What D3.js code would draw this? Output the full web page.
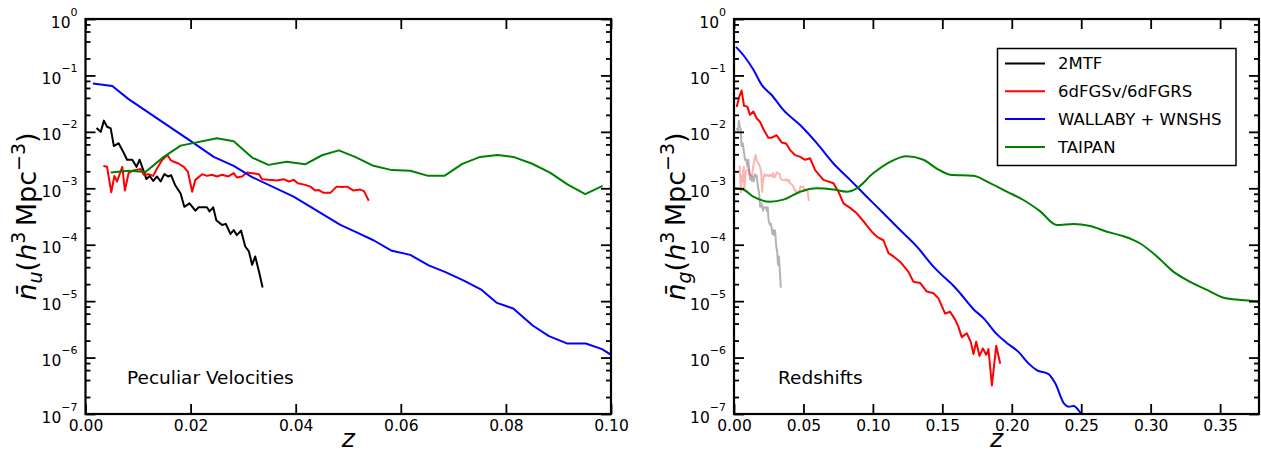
<!DOCTYPE html>
<html>
<head>
<meta charset="utf-8">
<script src="https://cdn.jsdelivr.net/npm/d3@7"></script>
<style>
  body { margin: 0; background: #fff; }
  svg { display: block; font-family: "DejaVu Sans", sans-serif; }
</style>
</head>
<body>
<svg id="chart" width="1261" height="454"></svg>
<script>
// values (z, mean number density in h^3 Mpc^-3)

const decades = [0, -1, -2, -3, -4, -5, -6, -7];
const zTicksPV = [0, 0.02, 0.04, 0.06, 0.08, 0.10];
const zTicksRS = [0, 0.05, 0.10, 0.15, 0.20, 0.25, 0.30, 0.35];
const surveys = ["2MTF", "6dFGSv/6dFGRS", "WALLABY + WNSHS", "TAIPAN"];

// peculiar velocities
const z2MTF = [0.0021, 0.0029, 0.0035, 0.0041, 0.0048, 0.0054, 0.0063, 0.0073, 0.0079, 0.0089,
  0.0097, 0.0103, 0.0110, 0.0116, 0.0122, 0.0129, 0.0136, 0.0143, 0.0150, 0.0157, 0.0163,
  0.0171, 0.0181, 0.0188, 0.0198, 0.0209, 0.0215, 0.0231, 0.0236, 0.0243, 0.0249, 0.0260,
  0.0267, 0.0276, 0.0282, 0.0288, 0.0296, 0.0304, 0.0311, 0.0317, 0.0323, 0.0331, 0.0337];
const n2MTF = [1.17e-2, 1.0e-2, 1.58e-2, 1.23e-2, 1.15e-2, 5.6e-3, 6.3e-3, 4.2e-3, 3.2e-3, 3.2e-3,
  2.4e-3, 3.2e-3, 2.1e-3, 1.45e-3, 1.66e-3, 1.35e-3, 1.62e-3, 1.32e-3, 1.78e-3, 1.62e-3, 1.7e-3,
  1.12e-3, 8.1e-4, 4.7e-4, 5.4e-4, 4.0e-4, 4.6e-4, 4.6e-4, 3.9e-4, 4.6e-4, 2.7e-4, 2.24e-4,
  2.34e-4, 1.55e-4, 1.82e-4, 1.48e-4, 1.78e-4, 9.3e-5, 7.6e-5, 4.4e-5, 6.2e-5, 3.1e-5, 1.74e-5];

const z6dFGSv = [0.0034, 0.0041, 0.0049, 0.0055, 0.0060, 0.0070, 0.0075, 0.0082, 0.0089, 0.0105,
  0.0111, 0.0120, 0.0129, 0.0136, 0.0146, 0.0156, 0.0162, 0.0168, 0.0177, 0.0187, 0.0195,
  0.0203, 0.0209, 0.0222, 0.0231, 0.0241, 0.0250, 0.0260, 0.0272, 0.0282, 0.0288, 0.0298,
  0.0307, 0.0330, 0.0336, 0.0348, 0.0364, 0.0377, 0.0387, 0.0396, 0.0404, 0.0418, 0.0428,
  0.0437, 0.0444, 0.0453, 0.0466, 0.0478, 0.0488, 0.0498, 0.0510, 0.0523, 0.0530, 0.0539];
const n6dFGSv = [2.48e-3, 2.4e-3, 8.5e-4, 1.66e-3, 1.32e-3, 2.4e-3, 9.1e-4, 1.86e-3, 2.04e-3, 2.19e-3,
  1.74e-3, 1.78e-3, 1.66e-3, 2.24e-3, 3.16e-3, 3.9e-3, 3.16e-3, 2.95e-3, 2.75e-3, 2.4e-3, 1.95e-3,
  8.7e-4, 1.41e-3, 1.78e-3, 1.66e-3, 1.74e-3, 1.62e-3, 1.74e-3, 1.62e-3, 1.86e-3, 1.55e-3, 1.62e-3,
  1.9e-3, 1.78e-3, 1.45e-3, 1.41e-3, 1.38e-3, 1.45e-3, 1.32e-3, 1.41e-3, 1.23e-3, 1.15e-3, 1.07e-3,
  9.1e-4, 9.3e-4, 8.3e-4, 8.3e-4, 1.07e-3, 1.05e-3, 1.07e-3, 9.1e-4, 9.5e-4, 8.9e-4, 6.0e-4];

const zWallabyPV = [0.0014, 0.0051, 0.0082, 0.0206, 0.0244, 0.0282, 0.0317, 0.0396, 0.0485, 0.0513,
  0.0548, 0.0583, 0.0618, 0.0653, 0.0684, 0.0719, 0.0754, 0.0783, 0.0814, 0.0851, 0.0882,
  0.0916, 0.0952, 0.0983, 0.1000];
const nWallabyPV = [7.2e-2, 6.5e-2, 3.8e-2, 6.3e-3, 3.6e-3, 2.5e-3, 1.58e-3, 7.1e-4, 2.24e-4, 1.7e-4,
  1.2e-4, 7.8e-5, 6.6e-5, 4.3e-5, 3.3e-5, 2.34e-5, 1.58e-5, 9.3e-6, 7.4e-6, 3.7e-6, 2.4e-6,
  1.78e-6, 1.78e-6, 1.41e-6, 1.12e-6];

const zTaipanPV = [0.0048, 0.0082, 0.0114, 0.0149, 0.0181, 0.0250, 0.0282, 0.0317, 0.0348, 0.0383,
  0.0418, 0.0450, 0.0482, 0.0513, 0.0548, 0.0583, 0.0618, 0.0652, 0.0683, 0.0717, 0.0751,
  0.0784, 0.0814, 0.0849, 0.0884, 0.0917, 0.0951, 0.0984];
const nTaipanPV = [1.9e-3, 2.04e-3, 1.95e-3, 3.6e-3, 5.7e-3, 7.7e-3, 6.8e-3, 3.5e-3, 2.6e-3, 2.95e-3,
  2.66e-3, 3.85e-3, 4.7e-3, 3.6e-3, 2.5e-3, 2.1e-3, 2.04e-3, 1.66e-3, 1.66e-3, 2.7e-3, 3.6e-3,
  3.9e-3, 3.6e-3, 2.75e-3, 1.9e-3, 1.17e-3, 7.9e-4, 1.1e-3];

// redshifts
const z6dFGRS = [0.0019, 0.0038, 0.0055, 0.0072, 0.0096, 0.0115, 0.0139, 0.0163, 0.0187, 0.0216,
  0.0247, 0.0271, 0.0307, 0.0343, 0.0375, 0.0403, 0.0439, 0.0476, 0.0512, 0.0548, 0.0584,
  0.0644, 0.0716, 0.0752, 0.0788, 0.0836, 0.0884, 0.0944, 0.0992, 0.1030, 0.1076, 0.1112,
  0.1148, 0.1196, 0.1256, 0.1292, 0.1340, 0.1388, 0.1436, 0.1472, 0.1520, 0.1556, 0.1592,
  0.1616, 0.1640, 0.1676, 0.1705, 0.1724, 0.1744, 0.1768, 0.1792, 0.1816, 0.1832, 0.1857,
  0.1888, 0.1917];
const n6dFGRS = [2.75e-2, 4.2e-2, 5.4e-2, 2.9e-2, 2.8e-2, 2.0e-2, 2.3e-2, 1.74e-2, 1.51e-2, 1.07e-2,
  7.9e-3, 7.9e-3, 8.7e-3, 6.5e-3, 6.2e-3, 4.8e-3, 3.9e-3, 3.6e-3, 3.2e-3, 3.4e-3, 2.1e-3,
  1.41e-3, 1.23e-3, 8.7e-4, 5.4e-4, 4.5e-4, 3.6e-4, 2.4e-4, 1.7e-4, 1.38e-4, 1.2e-4, 7.1e-5,
  6.2e-5, 5.0e-5, 3.3e-5, 2.2e-5, 2.1e-5, 1.48e-5, 1.38e-5, 1.12e-5, 6.0e-6, 6.5e-6, 4.7e-6,
  3.5e-6, 2.3e-6, 2.7e-6, 1.9e-6, 1.15e-6, 1.9e-6, 1.07e-6, 1.45e-6, 1.12e-6, 1.41e-6, 3.2e-7,
  1.62e-6, 7.8e-7];

const zWallabyRS = [0.0014, 0.0079, 0.0140, 0.0199, 0.0271, 0.0355, 0.0476, 0.0596, 0.0716, 0.0836,
  0.0956, 0.1076, 0.1196, 0.1316, 0.1436, 0.1484, 0.1585, 0.1628, 0.1724, 0.1796, 0.1892,
  0.1964, 0.2048, 0.2120, 0.2180, 0.2265, 0.2313, 0.2378, 0.2409, 0.2445, 0.2488, 0.2505];
const nWallabyRS = [3.2e-1, 2.1e-1, 1.26e-1, 6.8e-2, 4.5e-2, 2.45e-2, 1.32e-2, 6.3e-3, 2.75e-3, 1.41e-3,
  7.1e-4, 3.6e-4, 1.82e-4, 9.3e-5, 4.1e-5, 3.1e-5, 1.82e-5, 1.38e-5, 7.2e-6, 5.0e-6, 2.6e-6,
  1.82e-6, 1.26e-6, 7.9e-7, 6.0e-7, 5.1e-7, 3.5e-7, 1.51e-7, 1.35e-7, 1.38e-7, 1.1e-7, 9.5e-8];

const zTaipanRS = [0.0007, 0.0067, 0.0139, 0.0259, 0.0355, 0.0476, 0.0596, 0.0716, 0.0812, 0.0884,
  0.1004, 0.1124, 0.1244, 0.1364, 0.1460, 0.1556, 0.1724, 0.1844, 0.1964, 0.2084, 0.2205,
  0.2325, 0.2445, 0.2565, 0.2685, 0.2805, 0.2925, 0.3045, 0.3165, 0.3285, 0.3405, 0.3525,
  0.3646, 0.3780];
const nTaipanRS = [1.0e-3, 9.5e-4, 7.1e-4, 5.8e-4, 6.3e-4, 8.7e-4, 1.0e-3, 9.5e-4, 8.7e-4, 1.0e-3,
  1.86e-3, 2.95e-3, 3.7e-3, 3.2e-3, 2.24e-3, 1.74e-3, 1.66e-3, 1.23e-3, 8.7e-4, 6.2e-4, 3.9e-4,
  2.24e-4, 2.34e-4, 2.14e-4, 1.7e-4, 1.41e-4, 1.05e-4, 6.2e-5, 3.3e-5, 2.2e-5, 1.58e-5, 1.15e-5,
  1.05e-5, 1.0e-5];

const pairs = (zs, ns) => zs.map((z, i) => ({ z, n: ns[i] }));

const svg = d3.select("#chart");
svg.append("rect").attr("width", 1261).attr("height", 454).attr("fill", "#fff");

const plotTop = 19;
const plotBottom = 414;

const panels = [
  {
    id: "pv", left: 85.5, right: 611, xDomain: [0, 0.1], xTicks: zTicksPV,
    sub: "u", note: "Peculiar Velocities", noteX: 127,
    series: [
      { data: pairs(z2MTF, n2MTF), color: "black", curve: d3.curveLinear },
      { data: pairs(z6dFGSv, n6dFGSv), color: "red", curve: d3.curveLinear },
      { data: pairs(zWallabyPV, nWallabyPV), color: "blue", curve: d3.curveLinear },
      { data: pairs(zTaipanPV, nTaipanPV), color: "green", curve: d3.curveLinear }
    ]
  },
  {
    id: "rs", left: 734, right: 1259, xDomain: [0, 0.378], xTicks: zTicksRS,
    sub: "g", note: "Redshifts", noteX: 778, legend: true,
    series: [
      { data: pairs(z2MTF, n2MTF), color: "rgba(0,0,0,0.3)", curve: d3.curveLinear },
      { data: pairs(z6dFGSv, n6dFGSv), color: "rgba(255,0,0,0.3)", curve: d3.curveLinear },
      { data: pairs(z6dFGRS, n6dFGRS), color: "red", curve: d3.curveLinear },
      { data: pairs(zWallabyRS, nWallabyRS), color: "blue", curve: d3.curveMonotoneX },
      { data: pairs(zTaipanRS, nTaipanRS), color: "green", curve: d3.curveMonotoneX }
    ]
  }
];

const majors = decades.map(k => Math.pow(10, k));
const minors = decades.slice(1).flatMap(k => [2, 4, 6, 8].map(m => m * Math.pow(10, k)));
const supFmt = k => (k < 0 ? "\u2212" + -k : String(k));

panels.forEach(p => {
  const x = d3.scaleLinear().domain(p.xDomain).range([p.left, p.right]);
  const y = d3.scaleLog().domain([1e-7, 1]).range([plotBottom, plotTop]);
  const g = svg.append("g");

  g.append("clipPath")
    .attr("id", "clip-" + p.id)
    .append("rect")
    .attr("x", p.left)
    .attr("y", plotTop)
    .attr("width", p.right - p.left)
    .attr("height", plotBottom - plotTop);

  const line = d3
    .line()
    .x(d => x(d.z))
    .y(d => y(d.n));

  p.series.forEach(s => {
    g.append("path")
      .datum(s.data)
      .attr("clip-path", "url(#clip-" + p.id + ")")
      .attr("fill", "none")
      .attr("stroke", s.color)
      .attr("stroke-width", 2)
      .attr("stroke-linejoin", "round")
      .attr("d", line.curve(s.curve));
  });

  // y axes, ticks pointing inward on both sides
  const yLeft = g.append("g")
    .attr("transform", `translate(${p.left},0)`)
    .call(d3.axisLeft(y).tickValues(majors).tickSize(-10).tickSizeOuter(0).tickPadding(8).tickFormat(() => ""));
  yLeft.selectAll(".tick text")
    .attr("dy", null)
    .attr("y", 8)
    .attr("font-size", 15.5)
    .attr("font-family", "DejaVu Sans")
    .attr("fill", "#000")
    .each(function (d) {
      const k = Math.round(Math.log10(d));
      const t = d3.select(this);
      t.append("tspan").text("10");
      t.append("tspan").attr("dy", -12).attr("font-size", 11).text(supFmt(k));
    });

  g.append("g")
    .attr("transform", `translate(${p.left},0)`)
    .call(d3.axisLeft(y).tickValues(minors).tickSize(-5).tickSizeOuter(0).tickFormat(() => ""));
  g.append("g")
    .attr("transform", `translate(${p.right},0)`)
    .call(d3.axisRight(y).tickValues(majors).tickSize(-10).tickSizeOuter(0).tickFormat(() => ""));
  g.append("g")
    .attr("transform", `translate(${p.right},0)`)
    .call(d3.axisRight(y).tickValues(minors).tickSize(-5).tickSizeOuter(0).tickFormat(() => ""));

  // x axes
  g.append("g")
    .attr("transform", `translate(0,${plotBottom})`)
    .call(d3.axisBottom(x).tickValues(p.xTicks).tickSize(-10).tickSizeOuter(0).tickPadding(6).tickFormat(d3.format(".2f")))
    .call(a => a.selectAll("text").attr("font-size", 15.5).attr("font-family", "DejaVu Sans").attr("fill", "#000"));
  g.append("g")
    .attr("transform", `translate(0,${plotTop})`)
    .call(d3.axisTop(x).tickValues(p.xTicks).tickSize(-10).tickSizeOuter(0).tickFormat(() => ""));

  g.selectAll(".domain").remove();
  g.selectAll(".tick line").attr("stroke", "#000").attr("stroke-width", 1.8);

  g.append("rect")
    .attr("x", p.left)
    .attr("y", plotTop)
    .attr("width", p.right - p.left)
    .attr("height", plotBottom - plotTop)
    .attr("fill", "none")
    .attr("stroke", "#000")
    .attr("stroke-width", 2.2);

  // axis labels
  g.append("text")
    .attr("x", (p.left + p.right) / 2)
    .attr("y", 447)
    .attr("text-anchor", "middle")
    .attr("font-size", 25)
    .attr("font-style", "italic")
    .text("z");

  const yl = g.append("text")
    .attr("transform", `translate(${p.left - 49.5},${(plotTop + plotBottom) / 2}) rotate(-90)`)
    .attr("text-anchor", "middle")
    .attr("font-size", 27);
  yl.append("tspan").attr("font-style", "italic").text("n\u0304");
  yl.append("tspan").attr("font-style", "italic").attr("font-size", 19).attr("dy", 6).text(p.sub);
  yl.append("tspan").attr("dy", -6).text("(");
  yl.append("tspan").attr("font-style", "italic").text("h");
  yl.append("tspan").attr("font-size", 19).attr("dy", -11).text("3");
  yl.append("tspan").attr("dy", 11).text("\u2009Mpc");
  yl.append("tspan").attr("font-size", 19).attr("dy", -11).text("\u22123");
  yl.append("tspan").attr("dy", 11).text(")");

  g.append("text")
    .attr("x", p.noteX)
    .attr("y", 384)
    .attr("font-size", 18.5)
    .text(p.note);

  if (p.legend) {
    const colors = ["black", "red", "blue", "green"];
    const lg = g.append("g");
    lg.append("rect")
      .attr("x", 997.5)
      .attr("y", 48.5)
      .attr("width", 238.5)
      .attr("height", 117)
      .attr("fill", "#fff")
      .attr("stroke", "#000")
      .attr("stroke-width", 1.5);
    surveys.forEach((name, i) => {
      const ly = 63.5 + i * 27.8;
      lg.append("line")
        .attr("x1", 1005).attr("x2", 1045)
        .attr("y1", ly).attr("y2", ly)
        .attr("stroke", colors[i])
        .attr("stroke-width", 2);
      lg.append("text")
        .attr("x", 1058)
        .attr("y", ly)
        .attr("dy", "0.36em")
        .attr("font-size", 16.5)
        .text(name);
    });
  }
});
</script>
</body>
</html>
